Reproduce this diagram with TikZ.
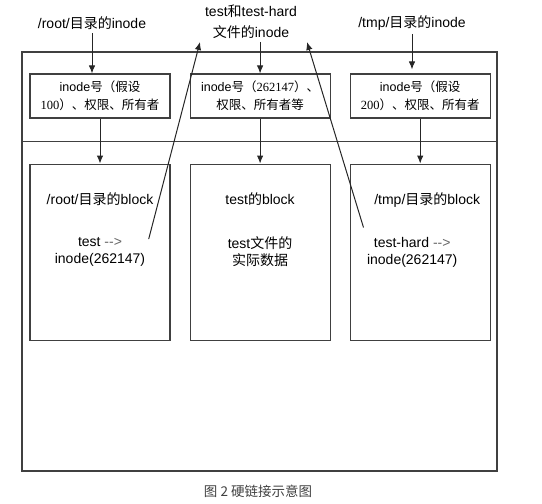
\documentclass[tikz,border=0pt]{standalone}
\usepackage{fontspec}
\setmainfont{Liberation Sans}
\newfontfamily\cjk{Noto Sans CJK SC}
\newfontfamily\numserif{Liberation Serif}
\newcommand{\zh}[1]{{\cjk #1}}
\newcommand{\sd}[1]{{\numserif #1}}
\usetikzlibrary{positioning,arrows.meta}
\tikzset{
  box/.style={draw=black!75, line width=1.1pt, shape=rectangle, inner sep=0pt},
  inobox/.style={box, minimum width=140pt, minimum height=44pt, align=center, font=\fontsize{12.5}{18}\selectfont},
  blkbox/.style={box, minimum width=140pt, minimum height=176pt},
  txt/.style={align=center, font=\fontsize{14}{17}\selectfont},
  lbl/.style={align=center, font=\fontsize{14}{21}\selectfont},
  lnk/.style={->, draw=black!85, line width=1pt},
}

\begin{document}
\begin{tikzpicture}[x=1pt, y=-1pt, >={Latex[length=8pt,width=6.5pt]}]
\useasboundingbox (0,0) rectangle (542,504);
% disk: inode table and data blocks
\node[box, minimum width=475pt, minimum height=89.7pt] (itable) at (259.5,96.85) {};
\node[box, minimum width=475pt, minimum height=329.3pt] (bregion) at (259.5,306.35) {};
% inode boxes
\node[inobox] (ino1) at (100,96) {inode\zh{号（假设}\\\sd{100}\zh{）、权限、所有者}};
\node[inobox, right=19pt of ino1] (ino2) {inode\zh{号（}\sd{262147}\zh{）、}\\\zh{权限、所有者等}};
\node[inobox, right=19pt of ino2] (ino3) {inode\zh{号（假设}\\\sd{200}\zh{）、权限、所有者}};
% block boxes
\node[blkbox, below=45pt of ino1] (blk1) {};
\node[blkbox, below=45pt of ino2] (blk2) {};
\node[blkbox, below=45pt of ino3] (blk3) {};
\node[txt, below=26pt of blk1.north] (bt1) {/root/\zh{目录的}block};
\node[txt, below=26pt of blk2.north] (bt2) {test\zh{的}block};
\node[txt, below=26pt of blk3.north, xshift=7pt] (bt3) {/tmp/\zh{目录的}block};
\node[txt] (dir1) at (blk1.center) {test \textcolor{black!60}{-{}-{}>}\\inode(262147)};
\node[txt] (dat2) at (blk2.center) {test\zh{文件的}\\\zh{实际数据}};
\node[txt] (dir3) at ([xshift=-8pt]blk3.center) {test-hard \textcolor{black!60}{-{}-{}>}\\inode(262147)};
% labels on top
\node[lbl] (rlab) at (92,23) {/root/\zh{目录的}inode};
\node[lbl] (flab) at (251,21.5) {test\zh{和}test-hard\\\zh{文件的}inode};
\node[lbl] (tlab) at (412,23) {/tmp/\zh{目录的}inode};
\coordinate (up1) at (200,42);
\coordinate (up2) at (307,42);
\draw[lnk] (rlab.south) -- (rlab.south |- ino1.north);
\draw[lnk] (ino2.north |- flab.south) -- (ino2.north);
\draw[lnk] (tlab.south) -- ([yshift=4pt]tlab.south |- ino3.north);
\draw[lnk] (ino1) -- (blk1);
\draw[lnk] (ino2) -- (blk2);
\draw[lnk] (ino3) -- (blk3);
\draw[lnk] ([yshift=-5pt]dir1.north east) -- (up1);
\draw[lnk] ([yshift=6pt]dir3.north west) -- (up2);
% caption
\node[font=\fontsize{13.5}{15}\selectfont\cjk, text=black!75] (cap) at (258,491) {图 2 硬链接示意图};
\end{tikzpicture}
\end{document}
